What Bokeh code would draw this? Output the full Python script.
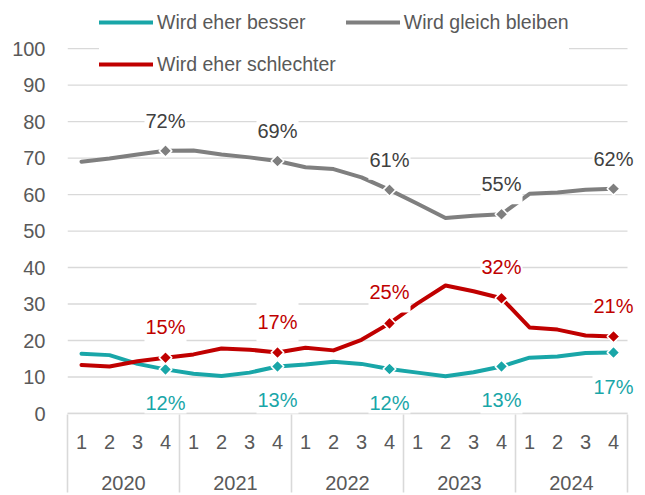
import numpy as np
from bokeh.plotting import figure
from bokeh.models import (Range1d, ColumnDataSource, Label, Legend,
                          LegendItem, FixedTicker, LinearAxis)
from bokeh.embed import file_html
from bokeh.resources import INLINE

# ---------------- data ----------------
years = ["2020", "2021", "2022", "2023", "2024"]
quarters = ["1", "2", "3", "4"]
besser = [16.4, 16.0, 13.6, 12.1, 10.9, 10.3, 11.2, 12.9, 13.4, 14.2,
          13.6, 12.2, 11.2, 10.2, 11.3, 12.9, 15.3, 15.6, 16.6, 16.7]
gleich = [69.0, 69.9, 71.0, 72.0, 72.1, 71.0, 70.2, 69.2, 67.5, 67.0,
          64.7, 61.3, 57.5, 53.6, 54.2, 54.6, 60.2, 60.6, 61.3, 61.6]
schlechter = [13.3, 12.9, 14.3, 15.3, 16.2, 17.8, 17.5, 16.7, 18.0, 17.3,
              20.2, 24.7, 30.2, 35.1, 33.5, 31.6, 23.6, 23.0, 21.4, 21.1]
y_ticks = list(range(0, 101, 10))
series_names = ["Wird eher besser", "Wird gleich bleiben", "Wird eher schlechter"]

# ---------------- styles ----------------
FONT = "Liberation Sans"
FS = "20px"
TEAL = "#19a6a8"
GREY = "#7f7f7f"
RED = "#c00000"
GRID = "#d9d9d9"
TXT = "#595959"
AXIS_PX = 560      # width of the drawn axis
EXTRA_PX = 13      # room kept right of the axis for value labels
Y_TOP = 113.2      # top of the plotting area (room for the legend)

nq = len(quarters)
n = len(years) * nq
xpos = list(range(n))                      # category index of each quarter
x0, x1 = -0.5, n - 0.5
qlabel = {i: quarters[i % nq] for i in xpos}
src = ColumnDataSource(dict(x=xpos, besser=besser, gleich=gleich, schlechter=schlechter))

idx = [i for i in xpos if i % nq == nq - 1]   # last quarter of each year
q4 = ColumnDataSource(dict(
    x=idx,
    besser=[besser[i] for i in idx], gleich=[gleich[i] for i in idx],
    schlechter=[schlechter[i] for i in idx]))

p = figure(width=640, height=494,
           x_range=Range1d(x0, x1 + n * EXTRA_PX / AXIS_PX), y_range=Range1d(0, Y_TOP),
           output_backend="svg", toolbar_location=None,
           title=None, min_border_left=67, min_border_right=0,
           min_border_top=0, min_border_bottom=81)
p.outline_line_color = None
p.background_fill_color = "white"
p.border_fill_color = "white"
p.xgrid.visible = False
p.ygrid.visible = False

# horizontal grid lines, limited to the category axis
p.segment(x0=[x0] * len(y_ticks), x1=[x1] * len(y_ticks), y0=y_ticks, y1=y_ticks,
          line_color=GRID, line_width=1.4)

# y axis
p.yaxis.ticker = FixedTicker(ticks=y_ticks)
p.yaxis.axis_line_color = None
p.yaxis.major_tick_line_color = None
p.yaxis.major_tick_out = 0
p.yaxis.major_tick_in = 0
p.yaxis.minor_tick_line_color = None
p.yaxis.minor_tick_out = 0
p.yaxis.major_label_standoff = 22
p.yaxis.major_label_text_font = FONT
p.yaxis.major_label_text_font_size = FS
p.yaxis.major_label_text_color = TXT

# x axis (quarters)
xa = p.xaxis[0]
xa.bounds = (x0, x1)
xa.ticker = FixedTicker(ticks=xpos)
xa.major_label_overrides = qlabel
xa.axis_line_color = GRID
xa.axis_line_width = 1.6
xa.major_tick_line_color = None
xa.major_tick_in = 0
xa.major_tick_out = 0
xa.minor_tick_line_color = None
xa.minor_tick_in = 0
xa.minor_tick_out = 0
xa.major_label_standoff = 21
xa.major_label_text_font = FONT
xa.major_label_text_font_size = FS
xa.major_label_text_color = TXT

# x axis (years)
centers = [j * nq + (nq - 1) / 2 for j in range(len(years))]
yax = LinearAxis(bounds=(x0, x1), ticker=FixedTicker(ticks=centers),
                 major_label_overrides={c: y for c, y in zip(centers, years)},
                 axis_line_color=None, major_tick_line_color=None, major_tick_out=0,
                 major_tick_in=0, minor_tick_line_color=None, minor_tick_out=0,
                 minor_tick_in=0, major_label_standoff=24,
                 major_label_text_font=FONT, major_label_text_font_size=FS,
                 major_label_text_color=TXT)
p.add_layout(yax, "below")

# year separators (minor ticks reaching up to the category axis)
bounds = [j * nq - 0.5 for j in range(len(years) + 1)]
sep = LinearAxis(bounds=(x0, x1), ticker=FixedTicker(ticks=[], minor_ticks=bounds),
                 axis_line_color=None, major_tick_line_color=None, major_tick_out=0,
                 major_tick_in=0, minor_tick_in=78, minor_tick_out=0,
                 minor_tick_line_color=GRID, minor_tick_line_width=1.6,
                 major_label_standoff=0)
p.add_layout(sep, "below")

# lines and markers
renderers = []
for col, c in (("besser", TEAL), ("gleich", GREY), ("schlechter", RED)):
    r = p.line("x", col, source=src, line_width=4, color=c,
               line_join="round", line_cap="round")
    renderers.append(r)
    p.scatter("x", col, source=q4, marker="square", angle=np.pi / 4, size=9,
              fill_color=c, line_color="white", line_width=1.6)

# value labels (last quarter of each year)
for vals, c, off in ((gleich, "#404040", 30), (schlechter, RED, 31), (besser, TEAL, -34)):
    for i in idx:
        p.add_layout(Label(x=i, y=vals[i], y_offset=off,
                           text=f"{int(np.floor(vals[i] + 0.5))}%",
                           text_align="center", text_baseline="middle",
                           text_font=FONT, text_font_size=FS, text_color=c,
                           background_fill_color="white", padding=(1, 9)))

legend = Legend(items=[LegendItem(label=nm, renderers=[r]) for nm, r in zip(series_names, renderers)],
                orientation="horizontal", ncols=2, location=(32, 333),
                label_text_font=FONT, label_text_font_size="19.5px", label_text_color=TXT,
                glyph_width=54, glyph_height=32, label_height=32, label_standoff=4,
                spacing=10, padding=0, margin=0, border_line_color=None,
                background_fill_color="white", background_fill_alpha=1.0)
p.add_layout(legend)

open("out.html", "w").write(file_html(p, INLINE))
